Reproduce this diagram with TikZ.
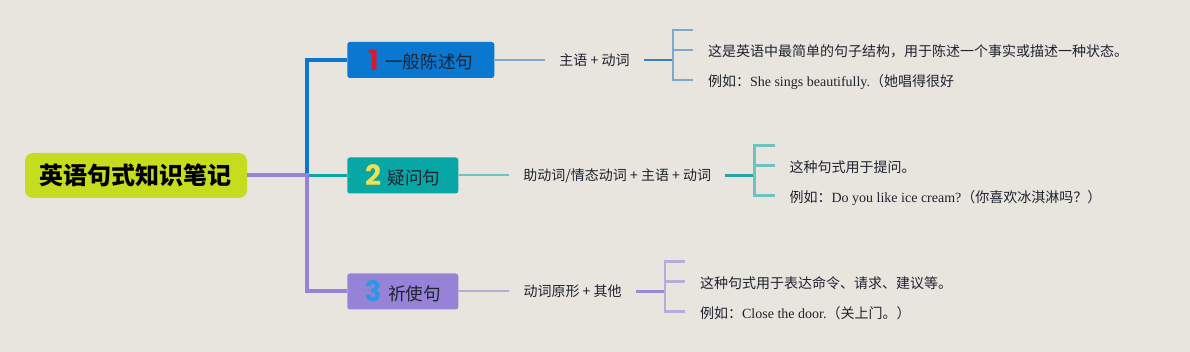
\documentclass[tikz,border=0pt]{standalone}
\usepackage{fontspec}
\usepackage{xcolor}
\usepackage{tikz}
\usetikzlibrary{positioning,calc}
\setmainfont{Noto Sans CJK SC}
\newfontfamily\enfont{Liberation Serif}
\newfontfamily\digfont{Poppins}
\definecolor{paper}{HTML}{E8E5DE}
\definecolor{lime}{HTML}{C6DC1E}
\definecolor{blueb}{HTML}{0A78D0}
\definecolor{tealb}{HTML}{09A6A6}
\definecolor{purpb}{HTML}{9683D8}
\definecolor{digr}{HTML}{D9192B}
\definecolor{digy}{HTML}{F2E04E}
\definecolor{digb}{HTML}{2A98E2}
\definecolor{ink}{HTML}{1E2330}
\definecolor{lnblue}{HTML}{7DA7CE}
\definecolor{lnbluek}{HTML}{3A80C0}
\definecolor{lnteal}{HTML}{6FC2C2}
\definecolor{lntealk}{HTML}{27A5A5}
\definecolor{lnpurp}{HTML}{B7ADDD}
\definecolor{lnpurpk}{HTML}{9A8AD4}
\newcommand\en[1]{{\enfont #1}}
\newcommand\bnum[2]{\raisebox{-1.1pt}{\digfont\bfseries\fontsize{21pt}{21pt}\selectfont\color{#1}#2}\hspace{5pt}}

\begin{document}
\begin{tikzpicture}[
   x=0.75pt,y=-0.75pt,
   font=\fontsize{10.5pt}{12pt}\selectfont,
   node distance=38pt,
   topic/.style ={fill=lime,rounded corners=6pt,minimum width=166.5pt,minimum height=33.75pt,font=\fontsize{18pt}{20pt}\selectfont\bfseries},
   branch/.style={rounded corners=2pt,minimum height=27pt,minimum width=83.25pt,inner xsep=13pt,anchor=west,text=ink,font=\fontsize{13.2pt}{15pt}\selectfont},
   rule/.style  ={inner xsep=10.5pt,inner ysep=2pt,text=ink},
   leaf/.style  ={inner xsep=11pt,inner ysep=2pt,text height=11.6pt,text depth=1.5pt,anchor=west,text=ink},
   trunk/.style ={line width=3pt},
   thin/.style  ={line width=1.5pt},
   stem/.style  ={line width=2.2pt},
   brk/.style   ={line width=1.8pt}
  ]
  \useasboundingbox[fill=paper] (0,0) rectangle (1190,352);

  % root
  \node[topic] (root) at (136,175.5) {英语句式知识笔记};
  \coordinate (fork) at (307,175.5);

  % branches
  \node[branch,fill=blueb,minimum width=110.25pt] (b1) at (347,60) {\bnum{digr}{1}一般陈述句};
  \node[branch,fill=tealb] (b2) at (347,175.5) {\bnum{digy}{2}疑问句};
  \node[branch,fill=purpb] (b3) at (347,291.5) {\bnum{digb}{3}祈使句};

  % rules
  \node[rule,right=of b1] (s1) {主语 + 动词};
  \node[rule,right=of b2] (s2) {助动词/情态动词 + 主语 + 动词};
  \node[rule,right=of b3] (s3) {动词原形 + 其他};
  \coordinate[right=22pt of s1] (k1);
  \coordinate[right=22pt of s2] (k2);
  \coordinate[right=22pt of s3] (k3);

  % notes
  \coordinate (e1) at ($(k1)+(20,-30)$);
  \node[leaf] (n1a) at ($(k1)+(20,-10)$) {这是英语中最简单的句子结构，用于陈述一个事实或描述一种状态。};
  \node[leaf] (n1b) at ($(k1)+(20,20)$) {例如：\en{She sings beautifully.}（她唱得很好};
  \coordinate (e2) at ($(k2)+(20,-30)$);
  \node[leaf] (n2a) at ($(k2)+(20,-10)$) {这种句式用于提问。};
  \node[leaf] (n2b) at ($(k2)+(20,20)$) {例如：\en{Do you like ice cream?}（你喜欢冰淇淋吗？）};
  \coordinate (e3) at ($(k3)+(20,-30)$);
  \node[leaf] (n3a) at ($(k3)+(20,-10)$) {这种句式用于表达命令、请求、建议等。};
  \node[leaf] (n3b) at ($(k3)+(20,20)$) {例如：\en{Close the door.}（关上门。）};

  \draw[trunk,blueb] (fork) |- (b1.west);
  \draw[stem,tealb] (fork) -- (b2.west);
  \draw[trunk,purpb] (root.east) -- (fork) |- (b3.west);

  \draw[thin,lnblue] (b1.east) -- (s1.west);
  \draw[stem,lnbluek] (s1.east) -- (k1);
  \draw[brk,lnblue] (k1) |- (e1);
  \draw[brk,lnblue] (k1) |- (n1a.west);
  \draw[brk,lnblue] (k1) |- (n1b.west);

  \draw[thin,lnteal] (b2.east) -- (s2.west);
  \draw[stem,lntealk] (s2.east) -- (k2);
  \draw[brk,lnteal] (k2) |- (e2);
  \draw[brk,lnteal] (k2) |- (n2a.west);
  \draw[brk,lnteal] (k2) |- (n2b.west);

  \draw[thin,lnpurp] (b3.east) -- (s3.west);
  \draw[stem,lnpurpk] (s3.east) -- (k3);
  \draw[brk,lnpurp] (k3) |- (e3);
  \draw[brk,lnpurp] (k3) |- (n3a.west);
  \draw[brk,lnpurp] (k3) |- (n3b.west);
\end{tikzpicture}
\end{document}
